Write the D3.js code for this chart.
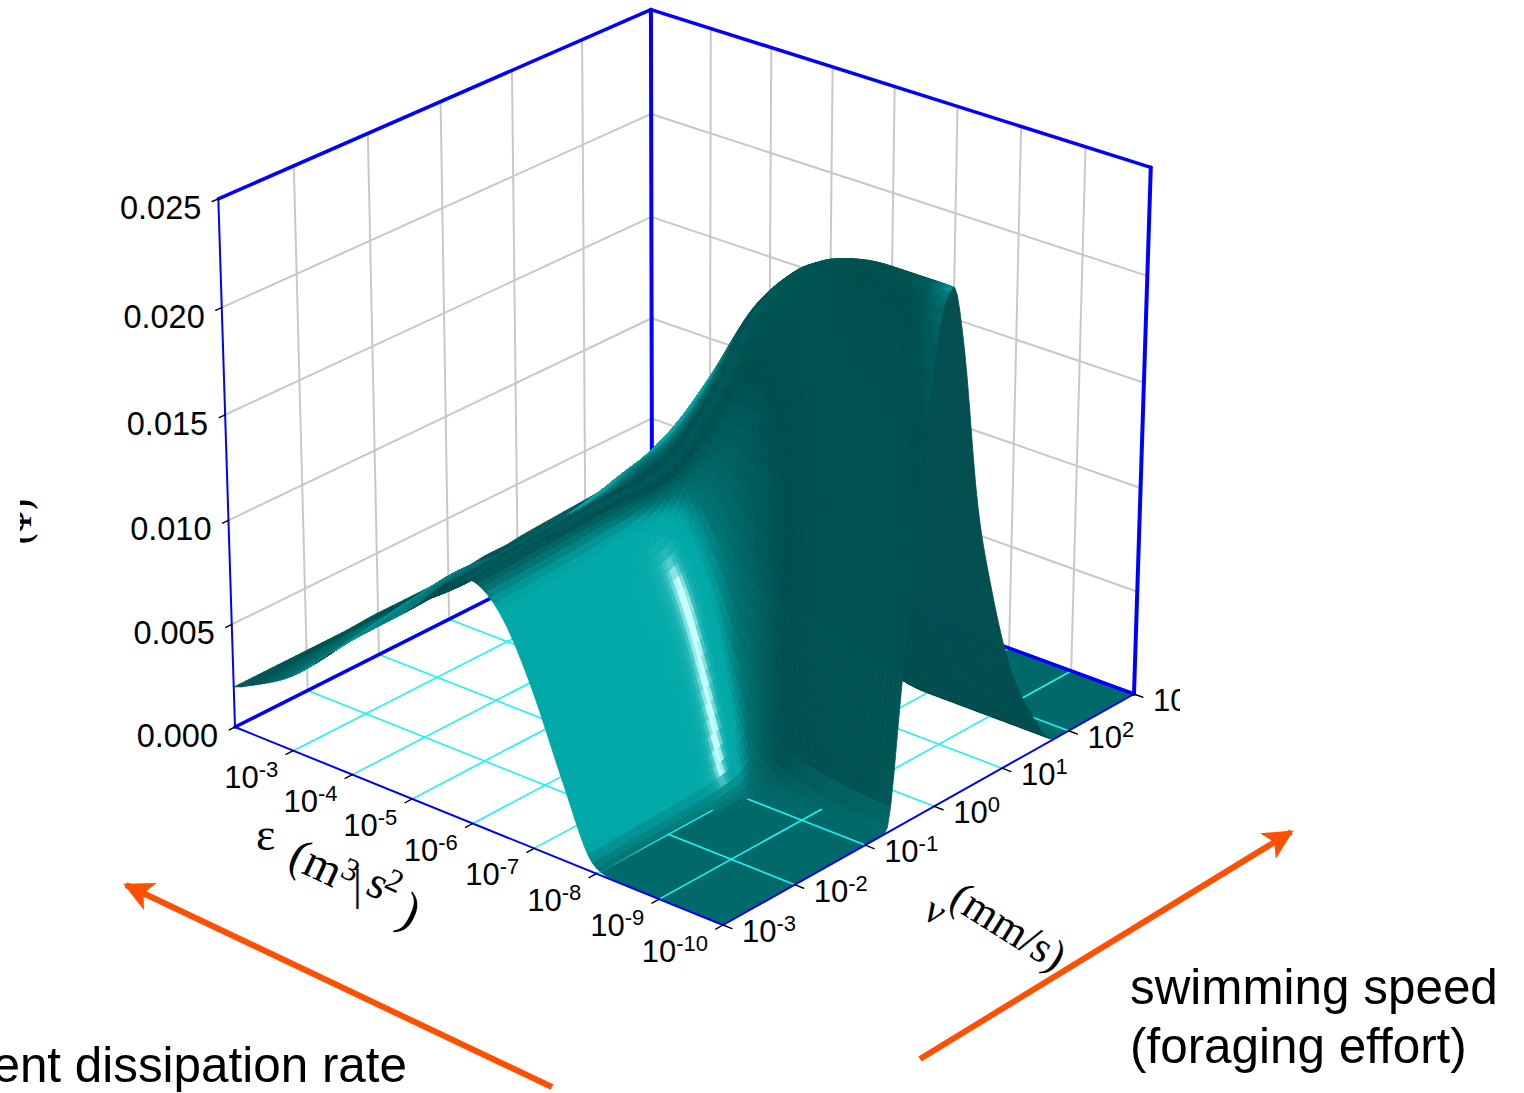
<!DOCTYPE html>
<html>
<head>
<meta charset="utf-8">
<script src="https://cdn.jsdelivr.net/npm/d3@7"></script>
<style>
  body { margin: 0; background: #fff; }
  text { font-family: "Liberation Sans", Arial, sans-serif; fill: #000; }
  .serif { font-family: "Liberation Serif", "Times New Roman", serif; }
</style>
</head>
<body>
<div id="chart"></div>
<script>
// 軸刻度 (log10)
const epsTicks = [-2, -3, -4, -5, -6, -7, -8, -9, -10];
const nuTicks = [-3, -2, -1, 0, 1, 2, 3];
const zTicks = [0, 0.005, 0.01, 0.015, 0.02, 0.025];

// 曲面讀值的格點
const epsGrid = [-2, -3, -4, -5, -6, -6.5, -7, -7.5, -8, -8.5, -9, -10];
const nuGrid = [-3, -2, -1.5, -1, -0.7, -0.5, -0.25, 0, 0.15, 0.3, 0.55, 0.8, 1.05, 1.4, 1.8, 2.2, 3];
// 每列一個 nu，每欄一個 eps，單位 1e-3
const zRows = [
  [1.9, 3.6, 6.4, 9.0, 11.6, 10.5, 7.5, 3.5, 0.2, 0, 0, 0],
  [1.9, 4.0, 7.0, 9.2, 11.8, 10.7, 7.8, 3.7, 0.3, 0, 0, 0],
  [1.9, 4.2, 7.2, 9.3, 11.9, 10.9, 8.1, 4.0, 0.3, 0, 0, 0],
  [2.0, 4.0, 6.8, 9.5, 12.0, 11.2, 8.6, 4.3, 0.5, 0.05, 0, 0],
  [2.0, 3.9, 6.7, 9.8, 12.2, 12.0, 9.0, 5.0, 1.5, 0.6, 0.3, 0],
  [2.0, 4.0, 6.8, 10.0, 12.8, 13.0, 11.0, 8.6, 7.6, 7.2, 7.0, 6.8],
  [2.0, 4.1, 7.0, 10.2, 13.6, 15.4, 16.0, 16.0, 16.2, 16.4, 16.4, 16.3],
  [2.1, 4.2, 7.2, 10.3, 14.3, 17.0, 20.0, 22.0, 23.2, 23.4, 23.4, 23.2],
  [2.1, 4.2, 7.0, 10.0, 13.4, 16.4, 19.5, 21.8, 23.2, 23.8, 24.0, 24.0],
  [2.1, 4.2, 6.8, 9.4, 12.0, 14.0, 16.5, 18.6, 20.2, 20.9, 21.2, 21.3],
  [2.2, 4.1, 6.4, 8.4, 10.0, 11.2, 12.5, 13.2, 13.4, 13.4, 13.4, 13.4],
  [2.2, 4.0, 5.8, 7.2, 8.2, 8.5, 8.8, 8.8, 8.7, 8.7, 8.7, 8.7],
  [2.3, 3.8, 5.0, 5.7, 6.0, 5.9, 5.7, 5.4, 5.2, 5.1, 5.1, 5.1],
  [2.4, 3.4, 3.9, 4.0, 3.6, 3.2, 2.8, 2.3, 2.0, 2.0, 2.0, 2.0],
  [2.5, 3.0, 3.0, 2.6, 1.8, 1.2, 0.7, 0.2, 0, 0, 0, 0],
  [2.6, 2.8, 2.4, 1.8, 0.9, 0.5, 0.2, 0, 0, 0, 0, 0],
  [3.0, 2.6, 1.8, 1.0, 0.4, 0.2, 0, 0, 0, 0, 0, 0]
];

const W = 1524, H = 1093;
const svg = d3.select('#chart').append('svg').attr('width', W).attr('height', H);
const defs = svg.append('defs');

// 座標尺度：資料 -> 單位立方體
const uScale = d3.scaleLinear().domain([-2, -10]).range([0, 1]);
const vScale = d3.scaleLinear().domain([-3, 3]).range([0, 1]);
const wScale = d3.scaleLinear().domain([0, 0.025]).range([0, 1]);

// 立方體角點在畫面上的位置，用來解透視矩陣
const A = [235, 727], F = [723, 925], R = [1134, 694], B = [652, 517];
const topCorners = [
  { u: 0, v: 0, p: [218, 198] },
  { u: 0, v: 1, p: [652, 8] },
  { u: 1, v: 1, p: [1150, 170] }
];

function solveProjection() {
  const dx1 = F[0] - R[0], dx2 = B[0] - R[0], sx = A[0] - F[0] + R[0] - B[0];
  const dy1 = F[1] - R[1], dy2 = B[1] - R[1], sy = A[1] - F[1] + R[1] - B[1];
  const det = dx1 * dy2 - dx2 * dy1;
  const g = (sx * dy2 - dx2 * sy) / det, h = (dx1 * sy - sx * dy1) / det;
  const a = F[0] - A[0] + g * F[0], b = B[0] - A[0] + h * B[0], c = A[0];
  const d = F[1] - A[1] + g * F[1], e = B[1] - A[1] + h * B[1], f = A[1];
  // 垂直方向那一欄用最小平方
  const rowsX = topCorners.map(t => ({ x: t.p[0], b: t.p[0] * (g * t.u + h * t.v + 1) - (a * t.u + b * t.v + c) }));
  const rowsY = topCorners.map(t => ({ x: t.p[1], b: t.p[1] * (g * t.u + h * t.v + 1) - (d * t.u + e * t.v + f) }));
  const mx = d3.mean(rowsX, r => r.x), bx = d3.mean(rowsX, r => r.b);
  const my = d3.mean(rowsY, r => r.x), by = d3.mean(rowsY, r => r.b);
  const num = d3.sum(rowsX, r => (r.x - mx) * (r.b - bx)) + d3.sum(rowsY, r => (r.x - my) * (r.b - by));
  const den = d3.sum(rowsX, r => (r.x - mx) ** 2) + d3.sum(rowsY, r => (r.x - my) ** 2);
  const r = -num / den;
  const p = mx * r + bx, q = my * r + by;
  return { a, b, c, d, e, f, g, h, p, q, r };
}
const M = solveProjection();

function project(u, v, w) {
  const k = M.g * u + M.h * v + M.r * w + 1;
  return [(M.a * u + M.b * v + M.p * w + M.c) / k, (M.d * u + M.e * v + M.q * w + M.f) / k];
}
const pt = (eps, nu, z) => project(uScale(eps), vScale(nu), wScale(z));

function drawLine(g, p0, p1, color, width) {
  g.append('line')
    .attr('x1', p0[0]).attr('y1', p0[1])
    .attr('x2', p1[0]).attr('y2', p1[1])
    .attr('stroke', color).attr('stroke-width', width)
    .attr('stroke-linecap', 'round');
}

// 單調三次內插，只用來把讀值的格點畫得平滑
function monotone(xs, ys) {
  const n = xs.length, m = new Array(n);
  const hs = d3.pairs(xs, (a, b) => b - a);
  const ss = hs.map((h, i) => (ys[i + 1] - ys[i]) / h);
  for (let i = 1; i < n - 1; i++) {
    const p = (ss[i - 1] * hs[i] + ss[i] * hs[i - 1]) / (hs[i - 1] + hs[i]);
    m[i] = (Math.sign(ss[i - 1]) + Math.sign(ss[i])) * Math.min(Math.abs(ss[i - 1]), Math.abs(ss[i]), 0.5 * Math.abs(p));
  }
  m[0] = ss[0];
  m[n - 1] = ss[n - 2];
  return x => {
    let i = d3.bisectRight(xs, x) - 1;
    i = Math.max(0, Math.min(n - 2, i));
    const t = (x - xs[i]) / hs[i], h = hs[i];
    const t2 = t * t, t3 = t2 * t;
    return (2 * t3 - 3 * t2 + 1) * ys[i] + (t3 - 2 * t2 + t) * h * m[i] +
      (-2 * t3 + 3 * t2) * ys[i + 1] + (t3 - t2) * h * m[i + 1];
  };
}

// 盒狀平滑，消除內插接縫造成的條紋
function smooth(grid, ri, rj, passes) {
  let out = grid;
  const ni = grid.length, nj = grid[0].length;
  for (let k = 0; k < passes; k++) {
    const prev = out;
    out = prev.map((row, i) => row.map((_, j) => {
      let s = 0, c = 0;
      for (let a = Math.max(0, i - ri); a <= Math.min(ni - 1, i + ri); a++) {
        s += prev[a][j]; c++;
      }
      for (let b = Math.max(0, j - rj); b <= Math.min(nj - 1, j + rj); b++) {
        s += prev[i][b]; c++;
      }
      return s / c;
    }));
  }
  return out;
}

const gWalls = svg.append('g');
const gFlat = svg.append('g');
const gFloor = svg.append('g');
const gBack = svg.append('g');
const gSurface = svg.append('g');
const gFrame = svg.append('g');
const gText = svg.append('g');

// 牆面灰色網格
const gray = '#c8c8c8';
nuTicks.slice(1, -1).forEach(n => drawLine(gWalls, pt(-2, n, 0), pt(-2, n, 0.025), gray, 2));
epsTicks.slice(1, -1).forEach(e => drawLine(gWalls, pt(e, 3, 0), pt(e, 3, 0.025), gray, 2));
zTicks.slice(1, -1).forEach(z => {
  drawLine(gWalls, pt(-2, -3, z), pt(-2, 3, z), gray, 2);
  drawLine(gWalls, pt(-2, 3, z), pt(-10, 3, z), gray, 2);
});

// 底面青色網格
const cyan = '#19f5f5';
nuTicks.slice(1, -1).forEach(n => drawLine(gFloor, pt(-2, n, 0), pt(-10, n, 0), cyan, 1.6));
epsTicks.slice(1, -1).forEach(e => drawLine(gFloor, pt(e, -3, 0), pt(e, 3, 0), cyan, 1.6));

// 後方藍框畫在曲面之後
const blue = '#0000ff';
drawLine(gBack, pt(-2, -3, 0), pt(-2, 3, 0), blue, 3.5);
drawLine(gBack, pt(-2, 3, 0), pt(-10, 3, 0), blue, 3.5);
drawLine(gBack, pt(-2, 3, 0), pt(-2, 3, 0.025), blue, 4);

// 曲面取樣
const epsAsc = epsGrid.slice().reverse();
const fineEps = d3.range(0, 121).map(i => -2 - i / 15);
const fineNu = d3.range(0, 151).map(i => -3 + i * 0.04);
const byEps = zRows.map(row => {
  const f = monotone(epsAsc, row.slice().reverse());
  return fineEps.map(e => f(e));
});
const rawSurf = fineEps.map((e, ei) => {
  const f = monotone(nuGrid, byEps.map(r => r[ei]));
  return fineNu.map(n => Math.max(0, f(n)) * 1e-3);
});
const surf = smooth(rawSurf, 2, 1, 1);
const shadeSurf = smooth(rawSurf, 4, 8, 5);

// 光線與配色
const norm = a => { const l = Math.hypot(...a); return a.map(x => x / l); };
const L = norm([0.8, -0.35, 0.35]);
const S = norm([2.2, -1.0, 1]);
const floorColor = '#006a6a';
const ramp = d3.scaleLinear()
  .domain([0.2, 0.5, 0.78, 0.9, 1])
  .range(['#016060', '#014f4f', '#007474', '#00a8a8', '#00a8a8'])
  .clamp(true);
const du = (1 / 15) / 8, dv = 0.04 / 6;

function shade(i, j) {
  const zAt = (a, b) => wScale(shadeSurf[Math.max(0, Math.min(fineEps.length - 1, a))][Math.max(0, Math.min(fineNu.length - 1, b))]);
  const zu = (zAt(i + 1, j) - zAt(i - 1, j)) / (2 * du);
  const zv = (zAt(i, j + 1) - zAt(i, j - 1)) / (2 * dv);
  const n = norm([-zu, -zv, 1]);
  const d = Math.max(n[0] * L[0] + n[1] * L[1] + n[2] * L[2], -1.3 * n[0]);
  const c = Math.max(0, n[0] * S[0] + n[1] * S[1] + n[2] * S[2]);
  const sp = 0.95 * Math.pow(c, 300) + 0.3 * Math.pow(c, 80);
  const base = d3.interpolateRgb(ramp(d), '#c8ffff')(Math.min(1, sp));
  // 貼近底面的部分融回底面顏色
  return d3.interpolateRgb(floorColor, base)(Math.min(1, surf[i][j] / 0.0012));
}

const quadPath = q => 'M' + q.map(p => p[0].toFixed(2) + ',' + p[1].toFixed(2)).join('L') + 'Z';

// 由遠到近畫：eps 由大到小，nu 由大到小
for (let j = fineNu.length - 2; j >= 0; j--) {
  for (let i = 0; i < fineEps.length - 1; i++) {
    const zs = [surf[i][j], surf[i + 1][j], surf[i + 1][j + 1], surf[i][j + 1]];
    const q = [
      pt(fineEps[i], fineNu[j], zs[0]),
      pt(fineEps[i + 1], fineNu[j], zs[1]),
      pt(fineEps[i + 1], fineNu[j + 1], zs[2]),
      pt(fineEps[i], fineNu[j + 1], zs[3])
    ];
    const flat = d3.max(zs) < 0.00025;
    const facing = d3.polygonArea(q) > 0;
    const color = flat ? floorColor : (facing ? shade(i, j) : '#024e50');
    (flat ? gFlat : gSurface).append('path')
      .attr('d', quadPath(q))
      .attr('fill', color)
      .attr('stroke', color)
      .attr('stroke-width', flat ? 1.2 : 0.8);
  }
}

// 前方與上方藍框
drawLine(gFrame, pt(-2, -3, 0), pt(-10, -3, 0), blue, 2);
drawLine(gFrame, pt(-10, -3, 0), pt(-10, 3, 0), blue, 2);
drawLine(gFrame, pt(-2, -3, 0), pt(-2, -3, 0.025), blue, 2);
drawLine(gFrame, pt(-10, 3, 0), pt(-10, 3, 0.025), blue, 4);
drawLine(gFrame, pt(-2, -3, 0.025), pt(-2, 3, 0.025), blue, 3.5);
drawLine(gFrame, pt(-2, 3, 0.025), pt(-10, 3, 0.025), blue, 3.5);

// 刻度線
epsTicks.slice(1).forEach(e => drawLine(gFrame, pt(e, -3.1, 0), pt(e, -3, 0), '#000', 1.4));
nuTicks.forEach(n => drawLine(gFrame, pt(-10, n, 0), pt(-10.14, n, 0), '#000', 1.4));
zTicks.forEach(z => drawLine(gFrame, pt(-2, -3.08, z), pt(-2, -3, z), '#000', 1.4));

// 刻度文字
zTicks.forEach(z => {
  const p = pt(-2, -3, z);
  gText.append('text').attr('x', p[0] - 17).attr('y', p[1] + 20)
    .attr('text-anchor', 'end').style('font-size', '32.5px').text(z.toFixed(3));
});

function powerLabel(g, x, y, exp, anchor) {
  const t = g.append('text').attr('x', x).attr('y', y).attr('text-anchor', anchor).style('font-size', '31px');
  t.append('tspan').text('10');
  t.append('tspan').attr('dy', -11).style('font-size', '22px').text(exp);
  return t;
}
epsTicks.slice(1).forEach(e => {
  const p = pt(e, -3, 0);
  powerLabel(gText, p[0] - 15, p[1] + 37, e, 'end');
});
defs.append('clipPath').attr('id', 'nuClip').append('rect').attr('width', 1180).attr('height', H);
const gNu = gText.append('g').attr('clip-path', 'url(#nuClip)');
nuTicks.forEach(n => {
  const p = pt(-10, n, 0);
  powerLabel(gNu, p[0] + 19, p[1] + 17, n, 'start');
});

// 軸標題
function serifLabel(str, x, y, size, angle) {
  gText.append('text').attr('class', 'serif')
    .attr('transform', `translate(${x},${y}) rotate(${angle})`)
    .style('font-size', size + 'px').text(str);
}
serifLabel('ε', 256, 850, 46, 0);
serifLabel('(m', 286, 866, 47, 25);
serifLabel('3', 339, 876, 32, 25);
serifLabel('|', 353, 900, 44, 0);
serifLabel('s', 364, 893, 46, 25);
serifLabel('2', 383, 887, 32, 25);
serifLabel(')', 396, 922, 50, 25);
serifLabel('ν', 921, 917, 40, 32);
serifLabel('(mm/s)', 947, 905, 44, 32);

defs.append('clipPath').attr('id', 'psiClip').append('rect').attr('x', 20).attr('y', 480).attr('width', 30).attr('height', 80);
gText.append('g').attr('clip-path', 'url(#psiClip)')
  .append('text').attr('class', 'serif')
  .attr('transform', 'translate(31,544) rotate(-90)')
  .style('font-size', '31px').style('font-weight', 'bold').text('(Ψ)');

// 橘色箭頭
const orange = '#ff4f00';
defs.append('marker').attr('id', 'head')
  .attr('viewBox', '0 0 10 10').attr('refX', 9).attr('refY', 5)
  .attr('markerWidth', 5).attr('markerHeight', 5).attr('orient', 'auto')
  .append('path').attr('d', 'M0,0L10,5L0,10L2.5,5Z').attr('fill', orange);
[[552, 1087, 126, 885], [920, 1059, 1291, 832]].forEach(a => {
  svg.append('line')
    .attr('x1', a[0]).attr('y1', a[1]).attr('x2', a[2]).attr('y2', a[3])
    .attr('stroke', orange).attr('stroke-width', 6)
    .attr('marker-end', 'url(#head)');
});

// 說明文字
const note = (str, x, y, anchor) => gText.append('text').attr('x', x).attr('y', y)
  .attr('text-anchor', anchor).style('font-size', '49.4px').text(str);
note('turbulent dissipation rate', 407, 1082, 'end');
note('swimming speed', 1130, 1004, 'start');
note('(foraging effort)', 1130, 1063, 'start');
</script>
</body>
</html>
